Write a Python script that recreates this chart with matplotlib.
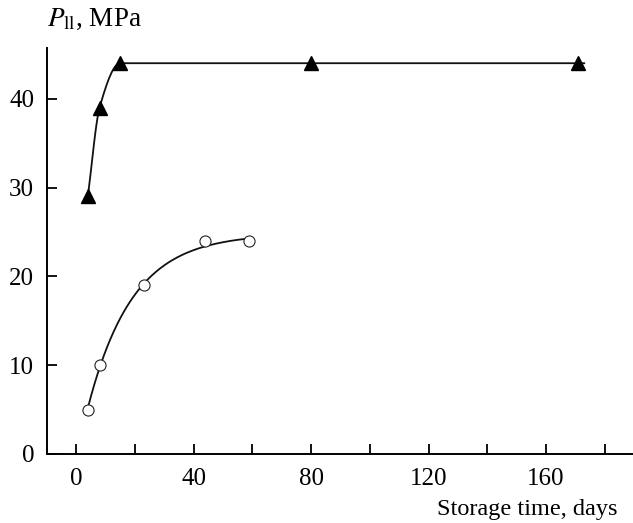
import matplotlib
matplotlib.use('Agg')
import matplotlib.pyplot as plt
import numpy as np

plt.rcParams['font.family'] = 'Liberation Serif'
plt.rcParams['mathtext.fontset'] = 'stix'

# storage time (days) and strength (MPa)
t_tri = [4, 8, 15, 80, 171]
p_tri = [29, 39, 44, 44, 44]
t_circ = [4, 8, 23, 44, 59]
p_circ = [5, 10, 19, 24, 24]

xticks_major = [0, 40, 80, 120, 160]
xticks_minor = [20, 60, 100, 140, 180]
yticks = [0, 10, 20, 30, 40]


def pchip(x, y, xs):
    # monotone cubic through the points (Fritsch-Carlson)
    x = np.asarray(x, float)
    y = np.asarray(y, float)
    h = np.diff(x)
    d = np.diff(y) / h
    m = np.zeros_like(y)
    m[0], m[-1] = d[0], d[-1]
    for i in range(1, len(x) - 1):
        if d[i - 1] * d[i] > 0:
            w1 = 2 * h[i] + h[i - 1]
            w2 = h[i] + 2 * h[i - 1]
            m[i] = (w1 + w2) / (w1 / d[i - 1] + w2 / d[i])
    out = np.empty_like(xs)
    for j, xv in enumerate(xs):
        i = min(np.searchsorted(x, xv, side='right') - 1, len(x) - 2)
        i = max(i, 0)
        s = (xv - x[i]) / h[i]
        h00 = 2 * s**3 - 3 * s**2 + 1
        h10 = s**3 - 2 * s**2 + s
        h01 = -2 * s**3 + 3 * s**2
        h11 = s**3 - s**2
        out[j] = h00 * y[i] + h10 * h[i] * m[i] + h01 * y[i + 1] + h11 * h[i] * m[i + 1]
    return out


def saturation_fit(x, y):
    # least squares for y = a - exp(c - k*x), scanning the asymptote a
    x = np.asarray(x, float)
    y = np.asarray(y, float)
    best = None
    for a in np.linspace(y.max() + 0.05, y.max() + 8, 400):
        k, c = np.polyfit(x, np.log(a - y), 1, w=(a - y))
        err = np.sum((a - np.exp(c + k * x) - y) ** 2)
        if best is None or err < best[0]:
            best = (err, a, k, c)
    _, a, k, c = best
    return lambda xs: a - np.exp(c + k * xs)


fig = plt.figure(figsize=(6.33, 5.23), dpi=100)
ax = fig.add_axes([0.0738, 0.132, 0.9262, 0.776])

# smooth curves through the points
xs1 = np.linspace(t_tri[0], 173, 400)
ax.plot(xs1, pchip(t_tri + [173], p_tri + [44], xs1), color='#111111', lw=1.3, zorder=2)
xs2 = np.linspace(t_circ[0], t_circ[-1], 300)
ax.plot(xs2, saturation_fit(t_circ, p_circ)(xs2), color='#111111', lw=1.3, zorder=2)

ax.plot(t_tri, p_tri, linestyle='none', marker='^', markersize=9.5,
        color='black', zorder=3, clip_on=False)
ax.plot(t_circ, p_circ, linestyle='none', marker='o', markersize=8,
        markerfacecolor='white', markeredgecolor='#222222', markeredgewidth=0.8,
        zorder=3, clip_on=False)

ax.set_xlim(-10, 189.6)
ax.set_ylim(0, 45.7)
ax.set_xticks(xticks_major)
ax.set_xticks(xticks_minor, minor=True)
ax.set_yticks(yticks)
ax.tick_params(axis='both', which='both', direction='in', length=7, width=1.3,
               labelsize=18, colors='black')
ax.tick_params(axis='x', pad=10)
ax.tick_params(axis='y', pad=9)

for s in ['top', 'right']:
    ax.spines[s].set_visible(False)
for s in ['left', 'bottom']:
    ax.spines[s].set_linewidth(1.4)

fig.text(0.074, 0.962, r'$P_{\mathrm{ll}}$, MPa', fontsize=19.5, va='center', ha='left')
fig.text(0.975, 0.025, 'Storage time, days', fontsize=17.5, va='center', ha='right')

plt.savefig('out.png', dpi=100)
